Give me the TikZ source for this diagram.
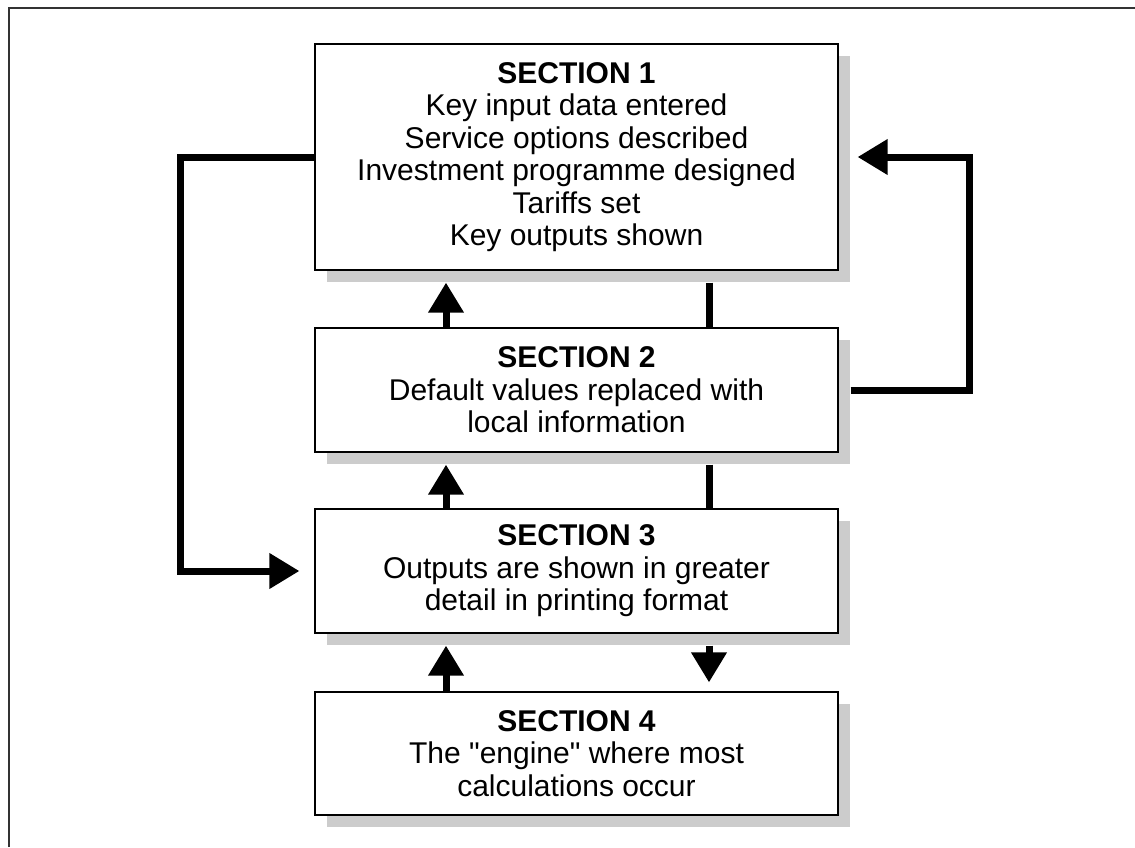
\documentclass[tikz,border=0pt]{standalone}
\usepackage{fontspec}
\setmainfont{Liberation Sans}
\usepackage{tikz}
\usetikzlibrary{arrows.meta,shadows}
\tikzset{
  section box/.style={
    rectangle, draw=black, line width=1.2pt, fill=white,
    minimum width=523pt, minimum height={#1pt},
    align=center, inner sep=0pt,
    font=\fontsize{30}{32.5}\selectfont,
    drop shadow={shadow xshift=12pt, shadow yshift=-12pt, fill=black!20, opacity=1},
  },
  flow/.style={line width=7pt, -{Triangle[width=34pt,length=30pt]}},
  link/.style={line width=7pt},
}

\begin{document}
\begin{tikzpicture}[x=1pt, y=-1pt]
  \useasboundingbox (0,0) rectangle (1135,847);
  \draw[line width=1.5pt, black!80] (9,847) -- (9,8) -- (1135,8);

  \node [section box=226] (s1) at (576.5,157)
    {\textbf{SECTION 1}\\Key input data entered\\Service options described\\
     Investment programme designed\\Tariffs set\\Key outputs shown};
  \node [section box=124] (s2) at (576.5,390)
    {\textbf{SECTION 2}\\Default values replaced with\\local information};
  \node [section box=124] (s3) at (576.5,571)
    {\textbf{SECTION 3}\\Outputs are shown in greater\\detail in printing format};
  \node [section box=123] (s4) at (576.5,753.5)
    {\textbf{SECTION 4}\\The \textquotedbl engine\textquotedbl{} where most\\calculations occur};

  \coordinate (ax) at (446,0);
  \coordinate (bx) at (709,0);

  \draw [flow, shorten >=12pt] (s2.north -| ax) -- (s1.south -| ax);
  \draw [flow, shorten >=12pt] (s3.north -| ax) -- (s2.south -| ax);
  \draw [flow, shorten >=12pt] (s4.north -| ax) -- (s3.south -| ax);

  \draw [link, shorten <=12pt] (s1.south -| bx) -- (s2.north -| bx);
  \draw [link, shorten <=12pt] (s2.south -| bx) -- (s3.north -| bx);
  \draw [flow, shorten <=12pt, shorten >=9pt] (s3.south -| bx) -- (s4.north -| bx);

  \draw [flow, shorten >=15pt] (s1.west) -- ++(-134,0) |- (s3.west);
  \draw [flow, shorten <=12pt, shorten >=19pt] (s2.east) -- ++(131,0) |- (s1.east);
\end{tikzpicture}
\end{document}
